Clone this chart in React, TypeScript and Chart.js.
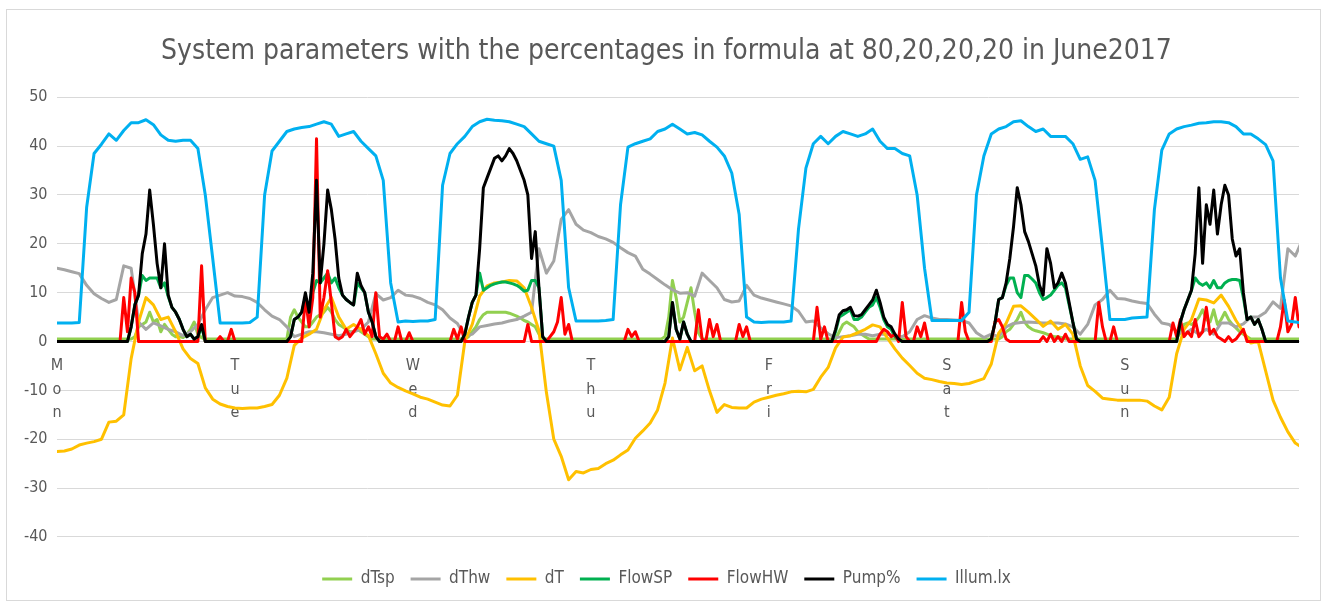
import React, { useEffect, useRef } from 'react';
import { Chart, registerables } from 'chart.js';

Chart.register(...registerables);

const FONT = "'Liberation Sans Narrow', 'Arial Narrow', 'DejaVu Sans Condensed', 'Liberation Sans', sans-serif";
const TEXT_COLOR = '#595959';
const GRID_COLOR = '#d9d9d9';

const TITLE = 'System parameters with the percentages in formula at 80,20,20,20 in June2017';
const DAY_NAMES = ['Mon', 'Tue', 'Wed', 'Thu', 'Fri', 'Sat', 'Sun'];
const HOURS_PER_DAY = 24;
const X_MAX_HOURS = 167.5;
const Y_MIN = -40;
const Y_MAX = 50;
const Y_STEP = 10;

const SERIES_NAMES = ['dTsp', 'dThw', 'dT', 'FlowSP', 'FlowHW', 'Pump%', 'Illum.lx'];
const SERIES_COLORS = ['#92D050', '#A5A5A5', '#FFC000', '#00B050', '#FF0000', '#000000', '#00B0F0'];

// ---- hourly series (one value per hour, Mon 00:00 onwards) ----
const illumLx = [
  3.8, 3.8, 3.8, 3.9, 27.5, 38.5, 40.4, 42.5, 41.2, 43.2, 44.8, 44.8, 45.4, 44.4, 42.3, 41.2, 41.0, 41.2, 41.2, 39.5, 30.0, 17.0, 3.8, 3.8,
  3.8, 3.8, 3.9, 5.0, 30.0, 39.0, 41.0, 43.0, 43.5, 43.8, 44.0, 44.5, 45.0, 44.5, 42.0, 42.5, 43.0, 41.0, 39.5, 38.0, 33.0, 12.0, 4.0, 4.2,
  4.1, 4.2, 4.2, 4.5, 32.0, 38.5, 40.5, 42.0, 44.0, 45.0, 45.5, 45.3, 45.2, 45.0, 44.5, 44.0, 42.5, 41.0, 40.5, 40.0, 33.0, 11.0, 4.2, 4.2,
  4.2, 4.2, 4.3, 4.5, 28.0, 39.8, 40.5, 41.0, 41.5, 43.0, 43.5, 44.5, 43.5, 42.5, 42.8, 42.3, 41.0, 39.8, 38.0, 34.5, 26.0, 5.0, 4.0, 3.9,
  4.0, 4.0, 4.0, 4.2, 23.0, 35.5, 40.5, 42.0, 40.5, 42.0, 43.0, 42.5, 42.0, 42.5, 43.5, 41.0, 39.5, 39.5, 38.5, 38.0, 30.0, 15.0, 4.3, 4.3,
  4.3, 4.3, 4.3, 6.0, 30.0, 38.0, 42.5, 43.5, 44.0, 45.0, 45.2, 44.0, 43.0, 43.5, 42.0, 42.0, 42.0, 40.5, 37.3, 37.8, 33.0, 19.0, 4.5, 4.5,
  4.5, 4.8, 4.9, 5.0, 27.0, 39.2, 42.5, 43.5, 44.0, 44.3, 44.7, 44.8, 45.0, 45.0, 44.8, 44.0, 42.5, 42.5, 41.5, 40.3, 37.0, 13.0, 4.2, 4.0,
  3.8,
];

const dT = [
  -22.5, -22.4, -22.0, -21.2, -20.8, -20.5, -20.0, -16.5, -16.3, -15.0, -3.5, 4.0, 9.0, 7.5, 4.5, 5.0, 2.0, -1.5, -3.5, -4.5, -9.5, -11.8, -12.8, -13.3,
  -13.6, -13.7, -13.6, -13.6, -13.3, -12.9, -11.0, -7.5, -0.8, 0.7, 1.5, 2.5, 6.5, 9.0, 5.0, 2.5, 3.5, 2.5, 1.2, -2.5, -6.5, -8.5, -9.4, -10.1,
  -10.7, -11.4, -11.8, -12.4, -13.0, -13.2, -11.0, 0.0, 3.5, 9.3, 11.4, 12.0, 12.2, 12.5, 12.4, 11.0, 7.0, 2.2, -10.4, -20.0, -23.5, -28.3, -26.6, -26.9,
  -26.2, -26.0, -25.0, -24.3, -23.2, -22.2, -19.8, -18.3, -16.7, -14.0, -8.5, 0.7, -5.8, -1.2, -6.0, -5.0, -10.1, -14.5, -12.9, -13.5, -13.6, -13.6, -12.4, -11.8,
  -11.4, -11.0, -10.7, -10.3, -10.2, -10.3, -9.8, -7.3, -5.3, -1.3, 0.9, 1.2, 1.8, 2.5, 3.4, 3.0, 0.7, -1.5, -3.4, -4.9, -6.5, -7.5, -7.8, -8.2,
  -8.5, -8.6, -8.8, -8.6, -8.1, -7.6, -4.6, 1.7, 3.7, 7.2, 7.3, 6.0, 4.6, 3.1, 4.2, 2.5, 3.5, 1.5, -5.0, -9.0, -10.2, -11.6, -11.8, -12.0,
  -12.0, -12.0, -12.0, -12.2, -13.2, -14.0, -11.4, -2.5, 2.5, 4.5, 8.7, 8.5, 7.9, 9.5, 7.2, 4.3, 2.0, -0.3, 0.0, -6.0, -12.0, -15.5, -18.5, -20.8,
  -21.8,
];

const dThw = [
  15.0, 14.7, 14.3, 13.9, 11.5, 9.8, 8.8, 8.0, 8.6, 15.5, 15.0, 4.0, 2.5, 3.8, 3.2, 2.5, 2.0, 1.2, 2.0, 3.5, 6.5, 9.0, 9.5, 10.0,
  9.3, 9.2, 8.8, 8.0, 6.5, 5.2, 4.5, 3.0, 1.0, 1.5, 2.0, 2.0, 1.8, 1.5, 1.2, 1.5, 2.0, 2.5, 4.0, 9.8, 8.5, 9.0, 10.5, 9.5,
  9.3, 8.8, 8.0, 7.5, 6.5, 4.8, 3.7, 1.0, 1.5, 3.0, 3.3, 3.6, 3.8, 4.2, 4.5, 5.2, 6.0, 19.0, 14.0, 16.5, 25.0, 27.0, 24.0, 22.8,
  22.3, 21.5, 21.0, 20.3, 19.2, 18.2, 17.5, 14.8, 13.8, 12.7, 11.6, 10.6, 9.9, 10.0, 9.3, 14.0, 12.5, 11.0, 8.6, 8.1, 8.3, 11.5, 9.5, 8.9,
  8.5, 8.1, 7.7, 7.3, 6.2, 4.0, 4.2, 2.8, 1.6, 0.8, 1.0, 1.2, 1.5, 1.5, 1.2, 1.5, 1.5, 1.2, 1.0, 2.0, 4.5, 5.3, 4.8, 4.5,
  4.5, 4.4, 4.3, 3.8, 1.8, 0.8, 1.5, 1.0, 3.0, 3.7, 3.9, 4.0, 3.9, 3.8, 3.8, 3.8, 3.6, 3.0, 1.5, 3.5, 7.5, 8.6, 10.5, 8.8,
  8.7, 8.3, 8.0, 7.8, 5.6, 3.8, 3.5, 2.0, 1.5, 2.5, 1.5, 2.5, 1.5, 3.8, 3.8, 3.0, 3.6, 5.0, 5.0, 6.0, 8.1, 6.8, 19.0, 17.5,
  21.0,
];

// ---- half-hourly series (two values per hour, 48 per day) ----
const pumpPct = [
  0, 0, 0, 0, 0, 0, 0, 0, 0, 0, 0, 0, 0, 0, 0, 0, 0, 0, 0, 0, 3, 7.5, 9.5, 18, 22, 31, 24, 16, 11, 20, 9.5, 7, 6, 4.5, 2.5, 1, 1.5, 0.5, 1, 3.5, 0, 0, 0, 0, 0, 0, 0, 0,
  0, 0, 0, 0, 0, 0, 0, 0, 0, 0, 0, 0, 0, 0, 0, 1, 4.5, 5, 6, 10, 6, 14, 33, 12, 20, 31, 27, 21, 13, 9.5, 8.6, 8, 7.5, 14, 11.5, 10, 6, 4, 1, 0, 0, 0, 0, 0, 0, 0, 0, 0,
  0, 0, 0, 0, 0, 0, 0, 0, 0, 0, 0, 0, 0, 0, 1.5, 5, 8, 9.5, 19, 31.5, 33.5, 35.5, 37.5, 38, 37, 38, 39.5, 38.5, 37, 35, 33, 30, 17, 22.5, 11, 1, 0, 0, 0, 0, 0, 0, 0, 0, 0, 0, 0, 0,
  0, 0, 0, 0, 0, 0, 0, 0, 0, 0, 0, 0, 0, 0, 0, 0, 0, 0, 0, 0, 0, 1, 8, 2.5, 0.5, 4, 1.5, 0, 0, 0, 0, 0, 0, 0, 0, 0, 0, 0, 0, 0, 0, 0, 0, 0, 0, 0, 0, 0,
  0, 0, 0, 0, 0, 0, 0, 0, 0, 0, 0, 0, 0, 0, 0, 0, 0, 0, 2.5, 5.5, 6.3, 6.5, 7, 5.3, 5.2, 5.5, 6.5, 7.5, 8.5, 10.5, 8, 5, 3.5, 3, 1.5, 0.5, 0, 0, 0, 0, 0, 0, 0, 0, 0, 0, 0, 0,
  0, 0, 0, 0, 0, 0, 0, 0, 0, 0, 0, 0, 0.5, 3.8, 8.6, 9, 12, 17, 23.5, 31.5, 28, 22.5, 20.5, 18, 15.5, 11.5, 9.5, 19, 16, 11, 12, 14, 12, 8, 4, 0.5, 0, 0, 0, 0, 0, 0, 0, 0, 0, 0, 0, 0,
  0, 0, 0, 0, 0, 0, 0, 0, 0, 0, 0, 0, 0, 0, 0, 4, 6.5, 8.5, 10.5, 18, 31.5, 16, 28, 24, 31, 22, 28, 32, 30, 21, 17.5, 19, 10, 4.5, 5, 3.5, 4.5, 2.5, 0, 0, 0, 0, 0, 0, 0, 0, 0, 0,
];

const flowSP = [
  0, 0, 0, 0, 0, 0, 0, 0, 0, 0, 0, 0, 0, 0, 0, 0, 0, 0, 0, 0, 3, 7.5, 9.5, 13.5, 12.5, 13, 13, 13, 11, 12, 9.2, 7, 6, 4.5, 2.5, 1, 1.5, 0.5, 1, 3, 0, 0, 0, 0, 0, 0, 0, 0,
  0, 0, 0, 0, 0, 0, 0, 0, 0, 0, 0, 0, 0, 0, 0, 1, 4.5, 5, 6, 9, 6, 10, 12.5, 12, 13, 14, 12, 13, 11, 9.5, 8.6, 8, 7.5, 12, 11, 10, 6, 4, 1, 0, 0, 0, 0, 0, 0, 0, 0, 0,
  0, 0, 0, 0, 0, 0, 0, 0, 0, 0, 0, 0, 0, 0, 1.5, 5, 8, 9.5, 14, 10.5, 11, 11.5, 11.8, 12, 12.2, 12.2, 12, 11.8, 11.5, 11, 10.3, 10.5, 12.5, 12.5, 11, 1, 0, 0, 0, 0, 0, 0, 0, 0, 0, 0, 0, 0,
  0, 0, 0, 0, 0, 0, 0, 0, 0, 0, 0, 0, 0, 0, 0, 0, 0, 0, 0, 0, 0, 1, 8, 2.5, 0.5, 4, 1.5, 0, 0, 0, 0, 0, 0, 0, 0, 0, 0, 0, 0, 0, 0, 0, 0, 0, 0, 0, 0, 0,
  0, 0, 0, 0, 0, 0, 0, 0, 0, 0, 0, 0, 0, 0, 0, 0, 0, 0, 2, 5, 5.5, 6, 6.5, 4.5, 4.5, 5, 6, 7, 7.5, 9, 7, 4.5, 3, 2.5, 1, 0.3, 0, 0, 0, 0, 0, 0, 0, 0, 0, 0, 0, 0,
  0, 0, 0, 0, 0, 0, 0, 0, 0, 0, 0, 0, 0.5, 3.8, 8.6, 9, 11.5, 13, 13, 10, 9, 13.5, 13.5, 12.8, 12, 10, 8.6, 9, 9.5, 10.5, 11.5, 12, 11, 7.5, 4, 0.5, 0, 0, 0, 0, 0, 0, 0, 0, 0, 0, 0, 0,
  0, 0, 0, 0, 0, 0, 0, 0, 0, 0, 0, 0, 0, 0, 0, 4, 6.5, 8.5, 10.5, 13, 12, 11.5, 12, 11, 12.5, 11, 11, 12, 12.5, 12.7, 12.7, 12.5, 9, 4.5, 5, 3.5, 4.5, 2.5, 0, 0, 0, 0, 0, 0, 0, 0, 0, 0,
];

const dTsp = [
  0.5, 0.5, 0.5, 0.5, 0.5, 0.5, 0.5, 0.5, 0.5, 0.5, 0.5, 0.5, 0.5, 0.5, 0.5, 0.5, 0.5, 0.5, 0.5, 0.5, 0.5, 1, 3, 3.5, 4, 6, 4, 4.5, 2, 3.5, 2.5, 1.5, 1, 1, 0.8, 1.5, 2.5, 4, 1.5, 0.8, 0.5, 0.5, 0.5, 0.5, 0.5, 0.5, 0.5, 0.5,
  0.5, 0.5, 0.5, 0.5, 0.5, 0.5, 0.5, 0.5, 0.5, 0.5, 0.5, 0.5, 0.5, 0.5, 0.5, 5, 6.5, 5, 4, 3, 3, 4, 5, 5.5, 6, 7, 6, 4.5, 3.5, 3, 2.5, 2, 2, 2.5, 2, 1.5, 1, 0.5, 0.5, 0.5, 0.5, 0.5, 0.5, 0.5, 0.5, 0.5, 0.5, 0.5,
  0.5, 0.5, 0.5, 0.5, 0.5, 0.5, 0.5, 0.5, 0.5, 0.5, 0.5, 0.5, 0.5, 0.5, 0.5, 1, 2, 3, 4.5, 5.5, 6, 6, 6, 6, 6, 6, 5.8, 5.5, 5.2, 4.8, 4.3, 4, 3.5, 3, 1.5, 0.5, 0.5, 0.5, 0.5, 0.5, 0.5, 0.5, 0.5, 0.5, 0.5, 0.5, 0.5, 0.5,
  0.5, 0.5, 0.5, 0.5, 0.5, 0.5, 0.5, 0.5, 0.5, 0.5, 0.5, 0.5, 0.5, 0.5, 0.5, 0.5, 0.5, 0.5, 0.5, 0.5, 1, 5, 12.5, 9, 4, 5, 8, 11, 6, 1.8, 0.5, 0.5, 0.5, 0.5, 0.5, 0.5, 0.5, 0.5, 0.5, 0.5, 0.5, 0.5, 0.5, 0.5, 0.5, 0.5, 0.5, 0.5,
  0.5, 0.5, 0.5, 0.5, 0.5, 0.5, 0.5, 0.5, 0.5, 0.5, 0.5, 0.5, 0.5, 0.5, 0.5, 0.5, 0.5, 0.5, 0.5, 2, 3.5, 4, 3.5, 3, 2, 1.5, 1, 0.5, 0.5, 0.5, 0.5, 0.5, 0.5, 0.5, 0.5, 0.5, 0.5, 0.5, 0.5, 0.5, 0.5, 0.5, 0.5, 0.5, 0.5, 0.5, 0.5, 0.5,
  0.5, 0.5, 0.5, 0.5, 0.5, 0.5, 0.5, 0.5, 0.5, 0.5, 0.5, 0.5, 0.5, 0.5, 0.5, 1, 2, 2.5, 3.5, 4.5, 6, 4, 3, 2.5, 2.2, 2, 1.8, 1.5, 1.2, 1, 1, 0.8, 0.5, 0.5, 0.5, 0.5, 0.5, 0.5, 0.5, 0.5, 0.5, 0.5, 0.5, 0.5, 0.5, 0.5, 0.5, 0.5,
  0.5, 0.5, 0.5, 0.5, 0.5, 0.5, 0.5, 0.5, 0.5, 0.5, 0.5, 0.5, 0.5, 0.5, 0.5, 2, 3.5, 3.8, 3.5, 4, 5, 6.5, 4.5, 4, 6.5, 3.5, 4.5, 6, 4.5, 3.5, 2.8, 2, 1.5, 1, 0.5, 0.5, 0.5, 0.5, 0.5, 0.5, 0.5, 0.5, 0.5, 0.5, 0.5, 0.5, 0.5, 0.5,
];

const flowHW = [
  0, 0, 0, 0, 0, 0, 0, 0, 0, 0, 0, 0, 0, 0, 0, 0, 0, 0, 9, 2, 13, 10, 0, 0, 0, 0, 0, 0, 0, 0, 0, 0, 0, 0, 0, 0, 0, 0, 0, 15.5, 0, 0, 0, 0, 1, 0, 0, 2.5,
  0, 0, 0, 0, 0, 0, 0, 0, 0, 0, 0, 0, 0, 0, 0, 0, 0, 0, 0, 9, 3, 9, 41.5, 5, 9, 14.5, 8, 1, 0.5, 1, 2.5, 1, 2, 3, 4.5, 1.5, 3, 1, 10, 1, 0.5, 1.5, 0, 0, 3, 0, 0, 1.8,
  0, 0, 0, 0, 0, 0, 0, 0, 0, 0, 0, 2.5, 0.5, 3, 0, 0, 0, 0, 0, 0, 0, 0, 0, 0, 0, 0, 0, 0, 0, 0, 0, 3.5, 0, 0, 0, 0, 0, 1, 2, 4, 9, 1.5, 3.5, 0, 0, 0, 0, 0,
  0, 0, 0, 0, 0, 0, 0, 0, 0, 0, 2.5, 1, 2, 0, 0, 0, 0, 0, 0, 0, 0, 0, 0, 0, 0, 0, 0, 0, 0, 6.5, 0.5, 0, 4.5, 1, 3.5, 0, 0, 0, 0, 0, 3.5, 1, 3, 0, 0, 0, 0, 0,
  0, 0, 0, 0, 0, 0, 0, 0, 0, 0, 0, 0, 0, 7, 0.5, 3, 0, 0, 0, 0, 0, 0, 0, 0, 0, 0, 0, 0, 0, 0, 1.5, 2.5, 2, 1, 1.5, 0, 8, 1, 0, 0, 3, 1, 3.8, 0, 0, 0, 0, 0,
  0, 0, 0, 0, 8, 2, 0, 0, 0, 0, 0, 0, 0, 4, 4.5, 3, 0.5, 0, 0, 0, 0, 0, 0, 0, 0, 0, 1, 0, 1.5, 0, 1, 0, 1.5, 0, 0, 0, 0, 0, 0, 0, 0, 8, 3, 0, 0, 3, 0, 0,
  0, 0, 0, 0, 0, 0, 0, 0, 0, 0, 0, 0, 0, 3.8, 1, 4.5, 1, 2, 1, 4.5, 1, 2, 7, 1.5, 2.5, 1, 0.5, 0, 1, 0, 0.5, 1.5, 2.5, 0, 0, 0, 0, 0, 0, 0, 0, 0, 3, 8.5, 2, 3.5, 9, 3,
];

const hourly = (arr: number[]) => arr.map((y, i) => ({ x: i, y }));
const halfHourly = (arr: number[]) => arr.map((y, i) => ({ x: i / 2, y }));

const chartFrame = {
  id: 'chartFrame',
  beforeDraw(chart: any) {
    const { ctx } = chart;
    ctx.save();
    ctx.fillStyle = '#ffffff';
    ctx.fillRect(0, 0, chart.width, chart.height);
    ctx.strokeStyle = GRID_COLOR;
    ctx.lineWidth = 1;
    ctx.strokeRect(6.5, 9.5, 1314, 591);
    ctx.restore();
  },
};

export default function App() {
  const canvasRef = useRef<HTMLCanvasElement | null>(null);

  useEffect(() => {
    if (!canvasRef.current) return;
    const seriesData = [
      halfHourly(dTsp),
      hourly(dThw),
      hourly(dT),
      halfHourly(flowSP),
      halfHourly(flowHW),
      halfHourly(pumpPct),
      hourly(illumLx),
    ];
    const datasets = SERIES_NAMES.map((name, i) => ({
      label: name,
      data: seriesData[i],
      borderColor: SERIES_COLORS[i],
      backgroundColor: SERIES_COLORS[i],
      borderWidth: 3,
      pointRadius: 0,
      tension: 0,
      borderJoinStyle: 'round' as const,
      borderCapStyle: 'round' as const,
      order: SERIES_NAMES.length - i,
    }));

    const chart = new Chart(canvasRef.current, {
      type: 'line',
      data: { datasets },
      plugins: [chartFrame],
      options: {
        animation: false,
        responsive: true,
        maintainAspectRatio: false,
        devicePixelRatio: 1,
        events: [],
        layout: { padding: { left: 34, right: 24, top: 10, bottom: 8.5 } },
        scales: {
          x: {
            type: 'linear',
            min: 0,
            max: X_MAX_HOURS,
            position: { y: 0 } as any,
            grid: { display: false, drawTicks: false },
            border: { display: true, color: GRID_COLOR },
            afterBuildTicks: (scale: any) => {
              scale.ticks = DAY_NAMES.map((_, d) => ({ value: d * HOURS_PER_DAY }));
            },
            ticks: {
              autoSkip: false,
              maxRotation: 0,
              minRotation: 0,
              padding: 13,
              color: TEXT_COLOR,
              font: { family: FONT, size: 16, lineHeight: 1.47 },
              callback: (value: any) => {
                const d = Number(value) / HOURS_PER_DAY;
                return Number.isInteger(d) && d >= 0 && d < DAY_NAMES.length ? DAY_NAMES[d].split('') : '';
              },
            },
          },
          y: {
            type: 'linear',
            min: Y_MIN,
            max: Y_MAX,
            grid: { color: GRID_COLOR, lineWidth: 1, drawTicks: false },
            border: { display: false },
            afterFit: (scale: any) => {
              scale.width = 23;
            },
            ticks: {
              stepSize: Y_STEP,
              mirror: true,
              crossAlign: 'far',
              padding: -33,
              color: TEXT_COLOR,
              font: { family: FONT, size: 16 },
            },
          },
        },
        plugins: {
          title: {
            display: true,
            text: TITLE,
            color: TEXT_COLOR,
            font: { family: FONT, size: 28, weight: 'normal' as any, lineHeight: 1.2 },
            padding: { top: 25, bottom: 28.7 },
          },
          legend: {
            position: 'bottom',
            title: { display: true, text: ' ', font: { size: 1 }, padding: { top: 16.4, bottom: 0 } },
            labels: {
              color: TEXT_COLOR,
              font: { family: FONT, size: 17 },
              boxWidth: 30,
              boxHeight: 3,
              padding: 16,
              sort: (a: any, b: any) => a.datasetIndex - b.datasetIndex,
              generateLabels: (c: any) =>
                (Chart.defaults.plugins.legend.labels.generateLabels as any)(c).map((l: any) => ({
                  ...l,
                  lineWidth: 0,
                  fillStyle: l.strokeStyle,
                })),
            },
          },
          tooltip: { enabled: false },
        },
      },
    });
    return () => chart.destroy();
  }, []);

  return (
    <div style={{ position: 'fixed', left: 0, top: 0, width: 1323, height: 606, background: '#fff' }}>
      <canvas ref={canvasRef} />
    </div>
  );
}
